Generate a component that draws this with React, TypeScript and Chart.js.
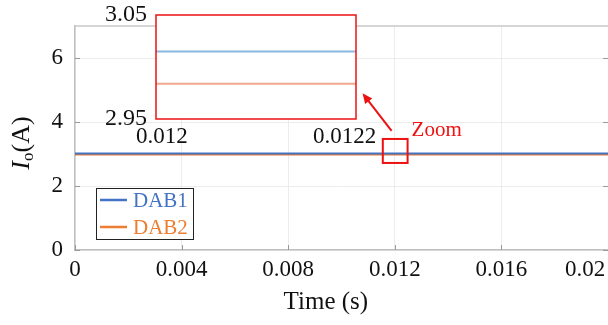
import React, { useEffect, useRef } from 'react';
import { Chart, registerables } from 'chart.js';

Chart.register(...registerables);

// ---- data ----
const timeS = [0, 0.02];
const dab1 = [3.015, 3.015];
const dab2 = [2.984, 2.984];
const seriesNames = ['DAB1', 'DAB2'];
const xTickValues = [0, 0.004, 0.008, 0.012, 0.016, 0.02];
const xTickLabels = ['0', '0.004', '0.008', '0.012', '0.016', '0.02'];
const yTickValues = [0, 2, 4, 6];
const yTickLabels = ['0', '2', '4', '6'];
const insetXTicks = [0.012, 0.0122];
const insetXLabels = ['0.012', '0.0122'];
const insetYTicks = [2.95, 3.05];
const insetYLabels = ['2.95', '3.05'];
const zoomBoxX = [0.01155, 0.01248];
const zoomBoxY = [2.72, 3.47];
const arrowTail = [0.01188, 3.72];
const arrowHead = [0.01079, 4.9];
const zoomTextAt = [0.01263, 3.75];

const FONT = "'Liberation Serif', 'Times New Roman', Times, serif";
const BLUE = '#4472C4';
const ORANGE = '#ED7D31';
const RED = '#ee1111';
const NB = '\u00a0';

export default function App() {
  const mainRef = useRef<HTMLCanvasElement>(null);
  const insetRef = useRef<HTMLCanvasElement>(null);

  useEffect(() => {
    const W = 608;
    const H = 325;

    const mainPlugin = {
      id: 'mainDecor',
      afterDraw(chart: any) {
        const { ctx, chartArea: a, scales } = chart;
        const xs = scales.x;
        const ys = scales.y;
        ctx.save();
        // top border
        ctx.strokeStyle = '#c8c8c8';
        ctx.lineWidth = 1.5;
        ctx.beginPath();
        ctx.moveTo(a.left, a.top);
        ctx.lineTo(a.right, a.top);
        ctx.stroke();
        // inward tick marks
        ctx.strokeStyle = '#9a9a9a';
        ctx.lineWidth = 1;
        ctx.beginPath();
        xTickValues.forEach((v) => {
          const px = Math.round(xs.getPixelForValue(v)) + 0.5;
          ctx.moveTo(px, a.bottom);
          ctx.lineTo(px, a.bottom - 5);
        });
        yTickValues.forEach((v) => {
          const py = Math.round(ys.getPixelForValue(v)) + 0.5;
          ctx.moveTo(a.left, py);
          ctx.lineTo(a.left + 5, py);
          ctx.moveTo(a.right, py);
          ctx.lineTo(a.right - 5, py);
        });
        ctx.stroke();

        // zoom box
        ctx.strokeStyle = RED;
        ctx.lineWidth = 2;
        const bx0 = xs.getPixelForValue(zoomBoxX[0]);
        const bx1 = xs.getPixelForValue(zoomBoxX[1]);
        const by0 = ys.getPixelForValue(zoomBoxY[1]);
        const by1 = ys.getPixelForValue(zoomBoxY[0]);
        ctx.strokeRect(bx0, by0, bx1 - bx0, by1 - by0);

        // arrow
        const tx = xs.getPixelForValue(arrowTail[0]);
        const ty = ys.getPixelForValue(arrowTail[1]);
        const hx = xs.getPixelForValue(arrowHead[0]);
        const hy = ys.getPixelForValue(arrowHead[1]);
        const ang = Math.atan2(hy - ty, hx - tx);
        const hl = 11;
        ctx.beginPath();
        ctx.moveTo(tx, ty);
        ctx.lineTo(hx - Math.cos(ang) * hl * 0.7, hy - Math.sin(ang) * hl * 0.7);
        ctx.stroke();
        ctx.fillStyle = RED;
        ctx.beginPath();
        ctx.moveTo(hx, hy);
        ctx.lineTo(hx - hl * Math.cos(ang - 0.42), hy - hl * Math.sin(ang - 0.42));
        ctx.lineTo(hx - hl * Math.cos(ang + 0.42), hy - hl * Math.sin(ang + 0.42));
        ctx.closePath();
        ctx.fill();

        // Zoom text
        ctx.font = `21px ${FONT}`;
        ctx.textAlign = 'left';
        ctx.textBaseline = 'middle';
        ctx.fillText('Zoom', xs.getPixelForValue(zoomTextAt[0]), ys.getPixelForValue(zoomTextAt[1]));

        // legend
        const lx = 96, ly = 188, lw = 97, lh = 51;
        ctx.fillStyle = '#ffffff';
        ctx.fillRect(lx, ly, lw, lh);
        ctx.strokeStyle = '#222';
        ctx.lineWidth = 1;
        ctx.strokeRect(lx + 0.5, ly + 0.5, lw, lh);
        const colors = [BLUE, ORANGE];
        seriesNames.forEach((name, i) => {
          const yy = ly + 12 + i * 27;
          ctx.strokeStyle = colors[i];
          ctx.lineWidth = 2.5;
          ctx.beginPath();
          ctx.moveTo(lx + 4, yy);
          ctx.lineTo(lx + 31, yy);
          ctx.stroke();
          ctx.fillStyle = colors[i];
          ctx.font = `21px ${FONT}`;
          ctx.textAlign = 'left';
          ctx.textBaseline = 'middle';
          ctx.fillText(name, lx + 37, yy + 1);
        });

        // y title  I_o(A)
        ctx.save();
        ctx.translate(29, 143);
        ctx.rotate(-Math.PI / 2);
        ctx.fillStyle = '#111';
        ctx.textBaseline = 'alphabetic';
        ctx.textAlign = 'left';
        const fI = `italic 26px ${FONT}`;
        const fSub = `17px ${FONT}`;
        const fN = `26px ${FONT}`;
        ctx.font = fI;
        const wI = ctx.measureText('I').width;
        ctx.font = fSub;
        const wO = ctx.measureText('o').width;
        ctx.font = fN;
        const wA = ctx.measureText('(A)').width;
        const total = wI + wO + wA;
        let cx = -total / 2;
        ctx.font = fI;
        ctx.fillText('I', cx, 0);
        cx += wI;
        ctx.font = fSub;
        ctx.fillText('o', cx, 4);
        cx += wO;
        ctx.font = fN;
        ctx.fillText('(A)', cx, 0);
        ctx.restore();

        ctx.restore();
      },
    };

    const main = new Chart(mainRef.current!, {
      type: 'line',
      data: {
        datasets: [
          {
            label: seriesNames[0],
            data: timeS.map((t, i) => ({ x: t, y: dab1[i] })),
            borderColor: BLUE,
            borderWidth: 2,
            pointRadius: 0,
          },
          {
            label: seriesNames[1],
            data: timeS.map((t, i) => ({ x: t, y: dab2[i] })),
            borderColor: ORANGE,
            borderWidth: 2,
            pointRadius: 0,
          },
        ],
      },
      options: {
        animation: false,
        responsive: false,
        events: [],
        layout: { padding: { top: 26, right: 0, left: 0, bottom: 0 } },
        plugins: { legend: { display: false }, tooltip: { enabled: false } },
        scales: {
          x: {
            type: 'linear',
            min: 0,
            max: 0.02,
            afterBuildTicks: (s: any) => {
              s.ticks = xTickValues.map((v) => ({ value: v }));
            },
            afterFit: (s: any) => {
              s.height = 75;
              s.paddingLeft = 0;
              s.paddingRight = 0;
            },
            ticks: {
              autoSkip: false,
              maxRotation: 0,
              padding: 6,
              color: '#111',
              font: { family: FONT, size: 23 },
              callback: (_v: any, i: number) =>
                i === xTickLabels.length - 1 ? xTickLabels[i] + NB.repeat(8) : xTickLabels[i],
            },
            grid: { color: '#ececec', lineWidth: 1, drawTicks: false },
            border: { color: '#c0c0c0', width: 1.5 },
            title: {
              display: true,
              text: 'Time (s)' + NB.repeat(5),
              color: '#111',
              font: { family: FONT, size: 25 },
              padding: { top: 0, bottom: 8 },
            },
          },
          y: {
            type: 'linear',
            min: 0,
            max: 7,
            afterBuildTicks: (s: any) => {
              s.ticks = yTickValues.map((v) => ({ value: v }));
            },
            afterFit: (s: any) => {
              s.width = 75;
              s.paddingTop = 0;
              s.paddingBottom = 0;
            },
            ticks: {
              padding: 12,
              color: '#111',
              font: { family: FONT, size: 23 },
              callback: (_v: any, i: number) => yTickLabels[i],
            },
            grid: { color: '#ececec', lineWidth: 1, drawTicks: false },
            border: { color: '#c0c0c0', width: 1.5 },
          },
        },
      },
      plugins: [mainPlugin],
    } as any);

    const insetPlugin = {
      id: 'insetDecor',
      beforeDraw(chart: any) {
        const { ctx, chartArea: a } = chart;
        ctx.save();
        ctx.fillStyle = '#ffffff';
        ctx.fillRect(a.left, a.top, a.right - a.left, a.bottom - a.top);
        ctx.restore();
      },
      afterDraw(chart: any) {
        const { ctx, chartArea: a } = chart;
        ctx.save();
        ctx.strokeStyle = RED;
        ctx.lineWidth = 1.5;
        ctx.strokeRect(a.left, a.top, a.right - a.left, a.bottom - a.top);
        ctx.restore();
      },
    };

    const inset = new Chart(insetRef.current!, {
      type: 'line',
      data: {
        datasets: [
          {
            label: seriesNames[0],
            data: timeS.map((t, i) => ({ x: t, y: dab1[i] })),
            borderColor: '#8ab8e0',
            borderWidth: 2,
            pointRadius: 0,
          },
          {
            label: seriesNames[1],
            data: timeS.map((t, i) => ({ x: t, y: dab2[i] })),
            borderColor: '#f0a88e',
            borderWidth: 2,
            pointRadius: 0,
          },
        ],
      },
      options: {
        animation: false,
        responsive: false,
        events: [],
        layout: { padding: { top: 15, right: W - 356, left: 0, bottom: 0 } },
        plugins: { legend: { display: false }, tooltip: { enabled: false } },
        scales: {
          x: {
            type: 'linear',
            min: insetXTicks[0],
            max: insetXTicks[1],
            afterBuildTicks: (s: any) => {
              s.ticks = insetXTicks.map((v) => ({ value: v }));
            },
            afterFit: (s: any) => {
              s.height = H - 119;
            },
            ticks: {
              autoSkip: false,
              maxRotation: 0,
              padding: 4,
              color: '#111',
              font: { family: FONT, size: 23 },
              callback: (_v: any, i: number) =>
                i === 0 ? NB.repeat(2) + insetXLabels[i] : insetXLabels[i] + NB.repeat(4),
            },
            grid: { display: false, drawTicks: false },
            border: { display: false },
          },
          y: {
            type: 'linear',
            min: insetYTicks[0],
            max: insetYTicks[1],
            afterBuildTicks: (s: any) => {
              s.ticks = insetYTicks.map((v) => ({ value: v }));
            },
            afterFit: (s: any) => {
              s.width = 156;
              s.paddingTop = 0;
              s.paddingBottom = 0;
            },
            ticks: {
              padding: 9,
              color: '#111',
              font: { family: FONT, size: 24 },
              callback: (_v: any, i: number) => insetYLabels[i],
            },
            grid: { display: false, drawTicks: false },
            border: { display: false },
          },
        },
      },
      plugins: [insetPlugin],
    } as any);

    return () => {
      main.destroy();
      inset.destroy();
    };
  }, []);

  return (
    <div style={{ position: 'fixed', left: 0, top: 0, width: 608, height: 325, background: '#fff' }}>
      <canvas ref={mainRef} width={608} height={325} style={{ position: 'absolute', left: 0, top: 0 }} />
      <canvas
        ref={insetRef}
        width={608}
        height={325}
        style={{ position: 'absolute', left: 0, top: 0, pointerEvents: 'none' }}
      />
    </div>
  );
}
